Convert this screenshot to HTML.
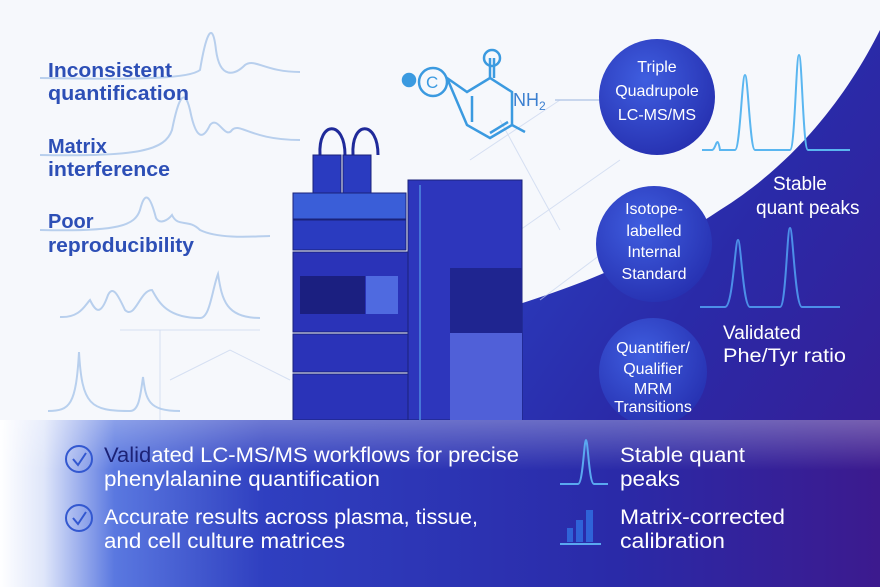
<!DOCTYPE html>
<html><head><meta charset="utf-8"><style>
html,body{margin:0;padding:0;width:880px;height:587px;overflow:hidden;background:#f6f8fc}
svg{display:block}
text{font-family:"Liberation Sans",sans-serif}
</style></head><body>
<svg width="880" height="587" viewBox="0 0 880 587" xmlns="http://www.w3.org/2000/svg">
<defs>
<linearGradient id="dark" x1="0" y1="0" x2="1" y2="1">
<stop offset="0" stop-color="#2b45c8"/><stop offset="0.5" stop-color="#2a2aa8"/><stop offset="1" stop-color="#3a1a90"/>
</linearGradient>
<linearGradient id="band" x1="0" y1="0" x2="1" y2="0">
<stop offset="0" stop-color="#ffffff"/><stop offset="0.05" stop-color="#dfe6fa"/><stop offset="0.13" stop-color="#5a78e0"/><stop offset="0.3" stop-color="#2f3fc0"/><stop offset="0.7" stop-color="#2a2aa8"/><stop offset="1" stop-color="#3c1a8e"/>
</linearGradient>
<linearGradient id="bandv" x1="0" y1="0" x2="0" y2="1">
<stop offset="0" stop-color="#ffffff" stop-opacity="0.3"/><stop offset="0.3" stop-color="#ffffff" stop-opacity="0"/>
</linearGradient>
<radialGradient id="circ" cx="0.4" cy="0.35" r="0.7">
<stop offset="0" stop-color="#3f5ee0"/><stop offset="1" stop-color="#2630b0"/>
</radialGradient>
</defs>
<rect width="880" height="587" fill="#f6f8fc"/>
<path d="M500 310 C600 280 660 250 720 210 C800 160 850 90 880 30 L880 587 L500 587 Z" fill="url(#dark)"/>
<g stroke="#c8d4ee" stroke-width="1" fill="none" opacity="0.7">
<path d="M470 160 L560 100 M520 230 L620 160 M540 300 L620 240 M500 120 L560 230 M160 330 L160 420 M120 330 L260 330 M170 380 L230 350 L290 380"/>
</g>
<g stroke="#a9c6ea" stroke-width="2" fill="none" opacity="0.8">
<path d="M40 78 C150 80 190 78 200 70 C205 40 212 15 216 50 C220 80 235 75 245 65 C255 58 265 72 300 72"/>
<path d="M40 155 C140 157 165 150 172 130 C178 100 184 85 190 110 C196 140 203 140 210 125 C218 115 225 140 232 130 C240 122 250 140 300 140"/>
<path d="M40 230 C120 232 135 225 140 210 C145 190 150 195 156 218 C160 225 168 220 172 215 C178 228 188 218 200 230 C220 240 260 236 270 236"/>
<path d="M60 317 C80 318 85 305 90 300 C95 310 100 318 108 295 C113 285 118 295 125 310 C135 320 140 290 152 290 C158 300 165 318 200 318 C210 318 212 290 218 274 C222 300 226 318 260 318"/>
<path d="M48 411 C70 411 76 405 79 352 C82 405 90 411 130 411 C138 411 140 400 143 377 C146 400 148 411 180 411"/>
</g>
<g fill="#2d4fb6" font-size="20" font-weight="bold">
<text x="48" y="77" textLength="124" lengthAdjust="spacingAndGlyphs">Inconsistent</text><text x="48" y="100" textLength="141" lengthAdjust="spacingAndGlyphs">quantification</text>
<text x="48" y="153">Matrix</text><text x="48" y="176" textLength="122" lengthAdjust="spacingAndGlyphs">interference</text>
<text x="48" y="228">Poor</text><text x="48" y="252" textLength="146" lengthAdjust="spacingAndGlyphs">reproducibility</text>
</g>
<g stroke="#3b9ae0" stroke-width="2.5" fill="none">
<circle cx="433" cy="82" r="14"/>
<circle cx="409" cy="80" r="6" fill="#3b9ae0"/>
<path d="M447 78 L467 92 L490 78 L512 92 L512 125 L490 138 L467 125 Z"/>
<path d="M490 78 L490 58 M494 78 L494 58"/>
<path d="M472 96 L472 122 M490 133 L508 122 M512 125 L525 132"/>
<circle cx="492" cy="58" r="8"/>
<path d="M555 100 L600 100" stroke="#b8cae8" stroke-width="1.5"/>
</g>
<text x="426" y="88" fill="#3b9ae0" font-size="17">C</text>
<text x="513" y="106" fill="#3b7fd0" font-size="18">NH<tspan font-size="12" dy="4">2</tspan></text>
<g>
<path d="M320 155 C318 120 345 120 345 155" stroke="#1f2a9a" stroke-width="3" fill="none"/>
<path d="M353 155 C351 120 378 120 378 155" stroke="#1f2a9a" stroke-width="3" fill="none"/>
<rect x="313" y="155" width="28" height="42" fill="#2a3bc0" stroke="#1a227a"/>
<rect x="343" y="155" width="28" height="42" fill="#2a3bc0" stroke="#1a227a"/>
<rect x="293" y="193" width="113" height="26" fill="#3a5ed8" stroke="#1a227a"/>
<rect x="293" y="220" width="113" height="30" fill="#2a3bc0" stroke="#1a227a"/>
<rect x="293" y="252" width="115" height="80" fill="#2a33b8" stroke="#1a227a"/>
<rect x="300" y="276" width="65" height="38" fill="#1b1f80"/>
<rect x="366" y="276" width="32" height="38" fill="#4f6ae0"/>
<rect x="293" y="334" width="115" height="38" fill="#2a33b8" stroke="#1a227a"/>
<rect x="293" y="374" width="115" height="46" fill="#2a33b8" stroke="#1a227a"/>
<rect x="408" y="180" width="114" height="240" fill="#2d36bc" stroke="#1a227a"/>
<path d="M420 185 L420 420" stroke="#4e8ce0" stroke-width="1.5"/>
<rect x="450" y="268" width="72" height="65" fill="#1f2590"/>
<rect x="450" y="333" width="72" height="87" fill="#5060d8"/>
</g>
<g fill="url(#circ)">
<circle cx="657" cy="97" r="58"/>
<circle cx="654" cy="244" r="58"/>
<circle cx="653" cy="372" r="54"/>
</g>
<g fill="#ffffff" font-size="16" text-anchor="middle">
<text x="657" y="72">Triple</text><text x="657" y="96">Quadrupole</text><text x="657" y="120">LC-MS/MS</text>
<text x="654" y="214">Isotope-</text><text x="654" y="236">labelled</text><text x="654" y="257">Internal</text><text x="654" y="279">Standard</text>
<text x="653" y="353">Quantifier/</text><text x="653" y="374">Qualifier</text><text x="653" y="394">MRM</text><text x="653" y="412">Transitions</text>
</g>
<g stroke="#5ab6f0" stroke-width="2" fill="none">
<path d="M702 150 L712 150 C716 150 717 132 720 150 L735 150 C740 150 742 75 745 75 C748 75 750 150 755 150 L790 150 C795 150 796 55 799 55 C802 55 803 150 808 150 L850 150"/>
<path d="M700 307 L725 307 C733 307 735 240 738 240 C741 240 743 307 750 307 L780 307 C786 307 787 228 790 228 C793 228 795 307 802 307 L840 307" stroke="#4c8fe8"/>
</g>
<g fill="#ffffff" font-size="19">
<text x="773" y="190">Stable</text><text x="756" y="214">quant peaks</text>
<text x="723" y="339">Validated</text><text x="723" y="362" textLength="123" lengthAdjust="spacingAndGlyphs">Phe/Tyr ratio</text>
</g>
<rect x="0" y="420" width="880" height="167" fill="url(#band)"/>
<rect x="0" y="420" width="880" height="167" fill="url(#bandv)"/>
<g stroke="#3358d0" stroke-width="2" fill="none">
<circle cx="79" cy="459" r="13"/><path d="M73 459 L78 465 L86 453"/>
<circle cx="79" cy="518" r="13"/><path d="M73 518 L78 524 L86 512"/>
</g>
<g fill="#ffffff" font-size="21">
<text x="104" y="462" textLength="415" lengthAdjust="spacingAndGlyphs"><tspan fill="#1c2276">Valid</tspan>ated LC-MS/MS workflows for precise</text>
<text x="104" y="486" textLength="276" lengthAdjust="spacingAndGlyphs">phenylalanine quantification</text>
<text x="104" y="524" textLength="374" lengthAdjust="spacingAndGlyphs">Accurate results across plasma, tissue,</text>
<text x="104" y="548" textLength="241" lengthAdjust="spacingAndGlyphs">and cell culture matrices</text>
<text x="620" y="462" textLength="125" lengthAdjust="spacingAndGlyphs">Stable quant</text><text x="620" y="486" textLength="60" lengthAdjust="spacingAndGlyphs">peaks</text>
<text x="620" y="524" textLength="165" lengthAdjust="spacingAndGlyphs">Matrix-corrected</text><text x="620" y="548" textLength="105" lengthAdjust="spacingAndGlyphs">calibration</text>
</g>
<path d="M560 484 L578 484 C583 484 584 440 586 440 C588 440 589 484 594 484 L608 484" stroke="#5aa8f0" stroke-width="2" fill="none"/>
<g fill="#2f63d8"><rect x="567" y="528" width="6" height="14"/><rect x="576" y="520" width="7" height="22"/><rect x="586" y="510" width="7" height="32"/></g>
<path d="M560 544 L601 544" stroke="#5aa8f0" stroke-width="2"/>
</svg>
</body></html>
